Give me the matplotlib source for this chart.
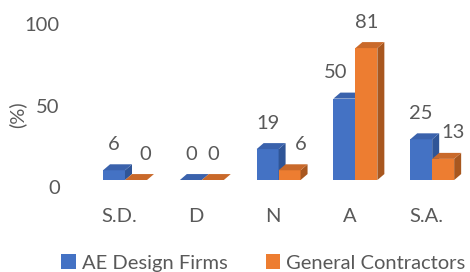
import matplotlib.pyplot as plt
import numpy as np
from matplotlib.patches import Polygon
from matplotlib.transforms import ScaledTranslation

categories = ['S.D.', 'D', 'N', 'A', 'S.A.']
ae_design = [6, 0, 19, 50, 25]
contractors = [0, 0, 6, 81, 13]
series_names = ['AE Design Firms', 'General Contractors']

plt.rcParams['font.family'] = ['Lato', 'DejaVu Sans']
text_color = '#595959'
fs = 14.5

W, H, DPI = 470, 272, 100
fig = plt.figure(figsize=(W / DPI, H / DPI), dpi=DPI)
ax = fig.add_axes([0.1715, 0.338, 0.817, 0.599])
ax.set_xlim(-0.5, 4.5)
ax.set_ylim(0, 100)

# pixels per data unit, used for the fake 3d depth
ppu_x = W * 0.817 / 5
ppu_y = H * 0.599 / 100
dx = 7 / ppu_x
dy = 6 / ppu_y

width = 0.286
shift = 0.078
x = np.arange(len(categories))

styles = [
    ('#4472C4', '#3A62AC', '#2F5597', [0, 0, 0, -9, 0]),
    ('#ED7D31', '#C9692A', '#A8571F', [9, 0, 11, 0, 10]),
]

for k, (vals, (front, top, side, nudge)) in enumerate(zip([ae_design, contractors], styles)):
    pos = x + shift + (k - 0.5) * width
    bars = ax.bar(pos, vals, width, color=front, label=series_names[k], zorder=2 + k)
    for b, v, n in zip(bars, vals, nudge):
        x0 = b.get_x()
        x1 = x0 + b.get_width()
        ax.add_patch(Polygon([(x1, 0), (x1 + dx, dy), (x1 + dx, v + dy), (x1, v)],
                             closed=True, color=side, lw=0, zorder=2 + k))
        ax.add_patch(Polygon([(x0, v), (x1, v), (x1 + dx, v + dy), (x0 + dx, v + dy)],
                             closed=True, color=top, lw=0, zorder=2 + k))
        ax.annotate(str(v), xy=(x0 + b.get_width() / 2, v), xytext=(n, 26),
                    textcoords='offset pixels', ha='center', va='center',
                    fontsize=fs, color=text_color)

for s in ax.spines.values():
    s.set_visible(False)
ax.set_xticks(x)
ax.set_xticklabels(categories)
ax.set_yticks([0, 50, 100])
ax.tick_params(axis='both', length=0, labelsize=fs, colors=text_color)
ax.tick_params(axis='x', pad=20)
ax.tick_params(axis='y', pad=15)
for lab in ax.get_yticklabels():
    lab.set_transform(lab.get_transform() + ScaledTranslation(0, -5 / 72, fig.dpi_scale_trans))

fig.text(17 / W, 1 - 115 / H, '(%)', rotation=90, ha='center', va='center',
         fontsize=fs, color=text_color)

fig.legend(loc='center', bbox_to_anchor=(0.56, 0.033), ncol=2, frameon=False,
           fontsize=fs, labelcolor=text_color, handlelength=0.7, handleheight=0.7,
           handletextpad=0.3, columnspacing=1.9)

fig.savefig('out.png', dpi=DPI)
